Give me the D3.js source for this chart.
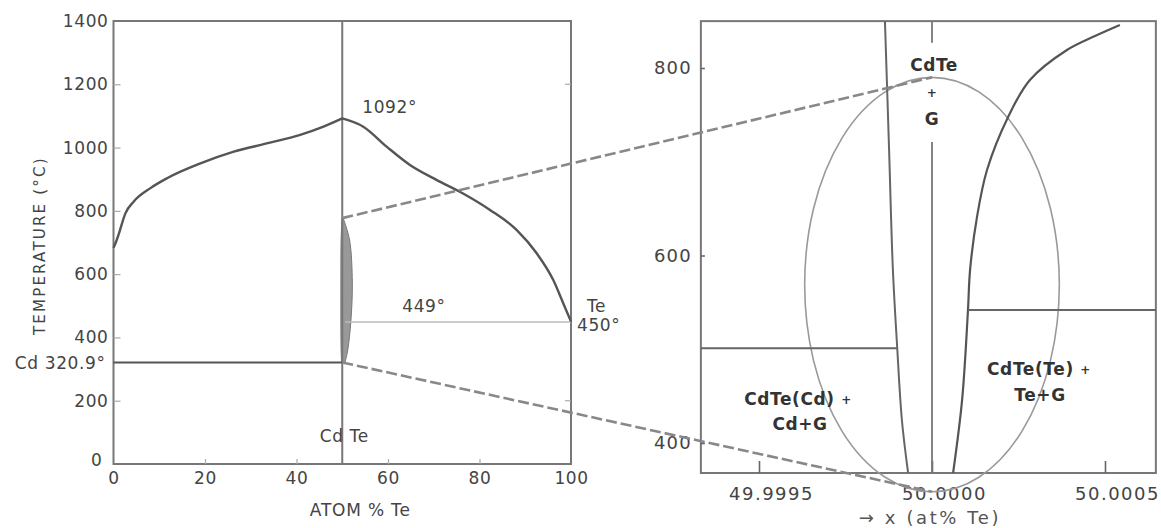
<!DOCTYPE html>
<html>
<head>
<meta charset="utf-8">
<script src="https://cdn.jsdelivr.net/npm/d3@7/dist/d3.min.js"></script>
<style>
  html, body { margin: 0; padding: 0; background: #fff; }
  svg { display: block; }
  text { font-family: "DejaVu Sans", sans-serif; fill: #444; }
</style>
</head>
<body>
<svg id="chart" width="1161" height="528"></svg>
<script>
// ---- Cd–Te phase diagram: overview (left) ----
const overviewTempTicks = [0, 200, 400, 600, 800, 1000, 1200, 1400];
const overviewTeTicks = [0, 20, 40, 60, 80, 100];

// liquidus, Cd-rich branch (at% Te, °C)
const liqCdTe = [0, 0.5, 1.2, 2.6, 4.4, 8, 11.7, 19, 26.3, 33.5, 40.8, 45.9, 50];
const liqCdT  = [683, 700, 729, 792, 829, 871, 903, 950, 987, 1013, 1040, 1066, 1092];
// liquidus, Te-rich branch
const liqTeTe = [50, 54.6, 59.7, 64.8, 70.6, 76.4, 82.3, 88.1, 92.5, 96.1, 98.3, 100];
const liqTeT  = [1092, 1066, 1003, 945, 898, 855, 803, 740, 666, 582, 508, 450];

// CdTe homogeneity lens (exaggerated)
const lensT     = [320.9, 360, 455, 572, 708, 777];
const lensLeft  = [49.85, 49.75, 49.7, 49.7, 49.75, 49.95];
const lensRight = [50.6, 51.2, 51.9, 52.2, 51.6, 50.2];

const cdMelt = 320.9;       // Cd eutectic line
const teEutectic = 449;     // Te-side eutectic
const teMelt = 450;
const cdteMelt = 1092;
const lensTop = 777;

// ---- enlarged region near stoichiometry (right) ----
const detailTempTicks = [400, 600, 800];
const detailTeTicks = [49.9995, 50.0000, 50.0005];
const detailTeDomain = [49.999332, 50.000647];
const detailTDomain = [368, 850];

// Cd-side solidus (retrograde)
const solCdTe = [49.999864, 49.999876, 49.999887, 49.999899, 49.999913, 49.999931];
const solCdT  = [850, 712.5, 584.5, 504.5, 424.5, 368];
// Te-side solidus
const solTeTe = [50.000061, 50.000087, 50.000104, 50.000110, 50.000130, 50.000159, 50.000220, 50.000283, 50.000390, 50.000471, 50.000543];
const solTeT  = [368, 445.9, 541.9, 584.5, 641, 691.2, 747.7, 787.2, 819.2, 834.1, 845.9];

const detailCdLine = 501;   // CdTe(Cd) + Cd + G boundary
const detailTeLine = 542;   // CdTe(Te) + Te + G boundary
const stoichGapT = [827, 721];

// highlight ellipse in detail coordinates
const ellipseCenter = [50.0000, 569];
const ellipseRadius = [0.000368, 221];

const svg = d3.select("#chart");

// scales
const xL = d3.scaleLinear([0, 100], [113.5, 571]);
const yL = d3.scaleLinear([0, 1400], [464, 21]);
const xR = d3.scaleLinear([49.9995, 50.0005], [759, 1105]);
const yR = d3.scaleLinear([400, 800], [443, 68]);

const frameColor = "#777";

// ===== left panel =====
const left = svg.append("g");

// lens
const lensData = lensT.map((t, i) => ({ t, a: lensLeft[i], b: lensRight[i] }));
left.append("path")
  .datum(lensData)
  .attr("d", d3.area().y(d => yL(d.t)).x0(d => xL(d.a)).x1(d => xL(d.b)).curve(d3.curveCatmullRom))
  .attr("fill", "#999").attr("stroke", "#777").attr("stroke-width", 1);

// frame
left.append("rect")
  .attr("x", xL(0)).attr("y", yL(1400))
  .attr("width", xL(100) - xL(0)).attr("height", yL(0) - yL(1400))
  .attr("fill", "none").attr("stroke", frameColor).attr("stroke-width", 2);

// axes with inward ticks
const axL = left.append("g").attr("transform", `translate(${xL(0)},0)`)
  .call(d3.axisLeft(yL).tickValues(overviewTempTicks).tickFormat(d3.format("d"))
    .tickSize(-7).tickPadding(5).tickSizeOuter(0));
const axB = left.append("g").attr("transform", `translate(0,${yL(0)})`)
  .call(d3.axisBottom(xL).tickValues(overviewTeTicks).tickFormat(d3.format("d"))
    .tickSize(-5).tickPadding(8).tickSizeOuter(0));
[axL, axB].forEach(a => {
  a.select(".domain").remove();
  a.selectAll(".tick line").attr("stroke", "#aaa").attr("stroke-width", 1.2);
  a.selectAll("text").attr("font-size", 17).attr("letter-spacing", 0.6).attr("fill", "#444")
    .attr("font-family", "DejaVu Sans");
});
axL.selectAll(".tick").filter(d => d === 0 || d === 1400).select("line").remove();
axB.selectAll(".tick").filter(d => d === 0 || d === 100).select("line").remove();
axL.selectAll(".tick").filter(d => d === 0).select("text").attr("dx", -6).attr("dy", "0.1em");

// right-edge ticks
left.selectAll("line.rtick").data([200, 1200]).join("line")
  .attr("x1", xL(100)).attr("x2", xL(100) - 6)
  .attr("y1", d => yL(d)).attr("y2", d => yL(d))
  .attr("stroke", "#aaa").attr("stroke-width", 1.2);

// CdTe stoichiometric line
left.append("line")
  .attr("x1", xL(50)).attr("x2", xL(50)).attr("y1", yL(0)).attr("y2", yL(1400))
  .attr("stroke", frameColor).attr("stroke-width", 2);

// Cd eutectic
left.append("line")
  .attr("x1", xL(0)).attr("x2", xL(50)).attr("y1", yL(cdMelt)).attr("y2", yL(cdMelt))
  .attr("stroke", "#555").attr("stroke-width", 2);
// Te eutectic
left.append("line")
  .attr("x1", xL(50) + 3).attr("x2", xL(100)).attr("y1", yL(teEutectic)).attr("y2", yL(teEutectic))
  .attr("stroke", "#bbb").attr("stroke-width", 1.5);

// liquidus
const liqLine = d3.line().x(d => xL(d[0])).y(d => yL(d[1])).curve(d3.curveMonotoneX);
left.append("path").datum(d3.zip(liqCdTe, liqCdT)).attr("d", liqLine)
  .attr("fill", "none").attr("stroke", "#555").attr("stroke-width", 2.4);
left.append("path").datum(d3.zip(liqTeTe, liqTeT)).attr("d", liqLine)
  .attr("fill", "none").attr("stroke", "#555").attr("stroke-width", 2.4);

// labels
const lbl = (g, x, y, s, opts = {}) => g.append("text").attr("x", x).attr("y", y)
  .attr("font-size", opts.size || 17).attr("letter-spacing", opts.ls ?? 0.6)
  .attr("text-anchor", opts.anchor || "start").attr("dominant-baseline", "middle")
  .attr("font-weight", opts.weight || "normal")
  .attr("font-family", opts.family || "DejaVu Sans")
  .style("fill", opts.fill || "#444").text(s);

lbl(left, xL(50) + 20, yL(cdteMelt) - 10, "1092°");
lbl(left, xL(50) + 60, yL(teEutectic) - 15, "449°");
lbl(left, xL(100) + 16, yL(teMelt) - 15, "Te");
lbl(left, xL(100) + 6, yL(teMelt) + 4, "450°");
lbl(left, xL(0) - 8, yL(cdMelt) + 2, "Cd 320.9°", { anchor: "end" });
lbl(left, xL(50) + 2, yL(85), "Cd Te", { anchor: "middle" });
lbl(left, xL(50) + 18, 511, "ATOM % Te", { anchor: "middle", ls: 0.8 });
left.append("text")
  .attr("transform", `translate(40,${yL(690)}) rotate(-90)`)
  .attr("text-anchor", "middle").attr("dominant-baseline", "middle")
  .attr("font-size", 15).attr("letter-spacing", 2.2).style("fill", "#444")
  .text("TEMPERATURE (°C)");

// ===== right panel =====
const right = svg.append("g");
const rx0 = xR(detailTeDomain[0]), rx1 = xR(detailTeDomain[1]);
const ry0 = yR(detailTDomain[1]), ry1 = yR(detailTDomain[0]);

// connector lines from the overview lens to the highlight ellipse
const conn = [
  [[xL(50), yL(lensTop)], [xR(ellipseCenter[0]), yR(ellipseCenter[1] + ellipseRadius[1])]],
  [[xL(50), yL(cdMelt)], [xR(ellipseCenter[0]), yR(ellipseCenter[1] - ellipseRadius[1])]]
];
svg.selectAll("line.conn").data(conn).join("line")
  .attr("x1", d => d[0][0]).attr("y1", d => d[0][1])
  .attr("x2", d => d[1][0]).attr("y2", d => d[1][1])
  .attr("stroke", "#888").attr("stroke-width", 2.6).attr("stroke-dasharray", "11 4");

// frame
right.append("rect")
  .attr("x", rx0).attr("y", ry0).attr("width", rx1 - rx0).attr("height", ry1 - ry0)
  .attr("fill", "none").attr("stroke", frameColor).attr("stroke-width", 2);

const axRL = right.append("g").attr("transform", `translate(${rx0},0)`)
  .call(d3.axisLeft(yR).tickValues(detailTempTicks).tickSize(-4).tickPadding(9).tickSizeOuter(0));
const axRB = right.append("g").attr("transform", `translate(0,${ry1})`)
  .call(d3.axisBottom(xR).tickValues(detailTeTicks).tickSize(-12).tickPadding(14).tickSizeOuter(0)
    .tickFormat(d3.format(".4f")));
[axRL, axRB].forEach(a => {
  a.select(".domain").remove();
  a.selectAll(".tick line").attr("stroke", "#666").attr("stroke-width", 1.6);
  a.selectAll("text").attr("font-size", 18).attr("letter-spacing", 1.2).attr("fill", "#555")
    .attr("font-family", "DejaVu Sans");
});
axRB.selectAll("text").attr("dx", 12).attr("letter-spacing", 1.5);

// highlight ellipse
right.append("ellipse")
  .attr("cx", xR(ellipseCenter[0])).attr("cy", yR(ellipseCenter[1]))
  .attr("rx", xR(ellipseCenter[0] + ellipseRadius[0]) - xR(ellipseCenter[0]))
  .attr("ry", yR(ellipseCenter[1] - ellipseRadius[1]) - yR(ellipseCenter[1]))
  .attr("fill", "none").attr("stroke", "#999").attr("stroke-width", 1.6);

// stoichiometric line, broken around the CdTe + G label
right.append("line").attr("x1", xR(50)).attr("x2", xR(50))
  .attr("y1", ry0).attr("y2", yR(stoichGapT[0])).attr("stroke", "#777").attr("stroke-width", 1.8);
right.append("line").attr("x1", xR(50)).attr("x2", xR(50))
  .attr("y1", yR(stoichGapT[1])).attr("y2", ry1).attr("stroke", "#777").attr("stroke-width", 1.8);

// solidus curves
const solLine = d3.line().x(d => xR(d[0])).y(d => yR(d[1])).curve(d3.curveCatmullRom);
right.append("path").datum(d3.zip(solCdTe, solCdT)).attr("d", solLine)
  .attr("fill", "none").attr("stroke", "#666").attr("stroke-width", 2);
right.append("path").datum(d3.zip(solTeTe, solTeT)).attr("d", solLine)
  .attr("fill", "none").attr("stroke", "#555").attr("stroke-width", 2.2);

// three-phase lines
const cdSolX = d3.scaleLinear(solCdT.slice(2, 4), solCdTe.slice(2, 4))(detailCdLine);
const teSolX = d3.scaleLinear(solTeT.slice(1, 3), solTeTe.slice(1, 3))(detailTeLine);
right.append("line").attr("x1", rx0).attr("x2", xR(cdSolX))
  .attr("y1", yR(detailCdLine)).attr("y2", yR(detailCdLine)).attr("stroke", "#666").attr("stroke-width", 2);
right.append("line").attr("x1", xR(teSolX)).attr("x2", rx1)
  .attr("y1", yR(detailTeLine)).attr("y2", yR(detailTeLine)).attr("stroke", "#666").attr("stroke-width", 2);

// region labels
const serif = { family: "DejaVu Serif", weight: "bold", anchor: "middle", size: 17, ls: 0.5, fill: "#333" };
lbl(right, xR(50) + 2, 66, "CdTe", serif);
lbl(right, xR(50), 93, "+", { ...serif, size: 12 });
lbl(right, xR(50), 120, "G", serif);

const bold = { weight: "bold", anchor: "middle", size: 17, ls: 0.6, fill: "#333" };
const t1 = lbl(right, 798, 400, "CdTe(Cd) ", bold);
t1.append("tspan").attr("font-size", 12).text("+");
lbl(right, 800, 425, "Cd+G", bold);
const t2 = lbl(right, 1039, 370, "CdTe(Te) ", bold);
t2.append("tspan").attr("font-size", 12).text("+");
lbl(right, 1040, 396, "Te+G", bold);

lbl(right, 930, 519, "→ x (at% Te)", { anchor: "middle", size: 18, ls: 2.6, fill: "#555" });
</script>
</body>
</html>
